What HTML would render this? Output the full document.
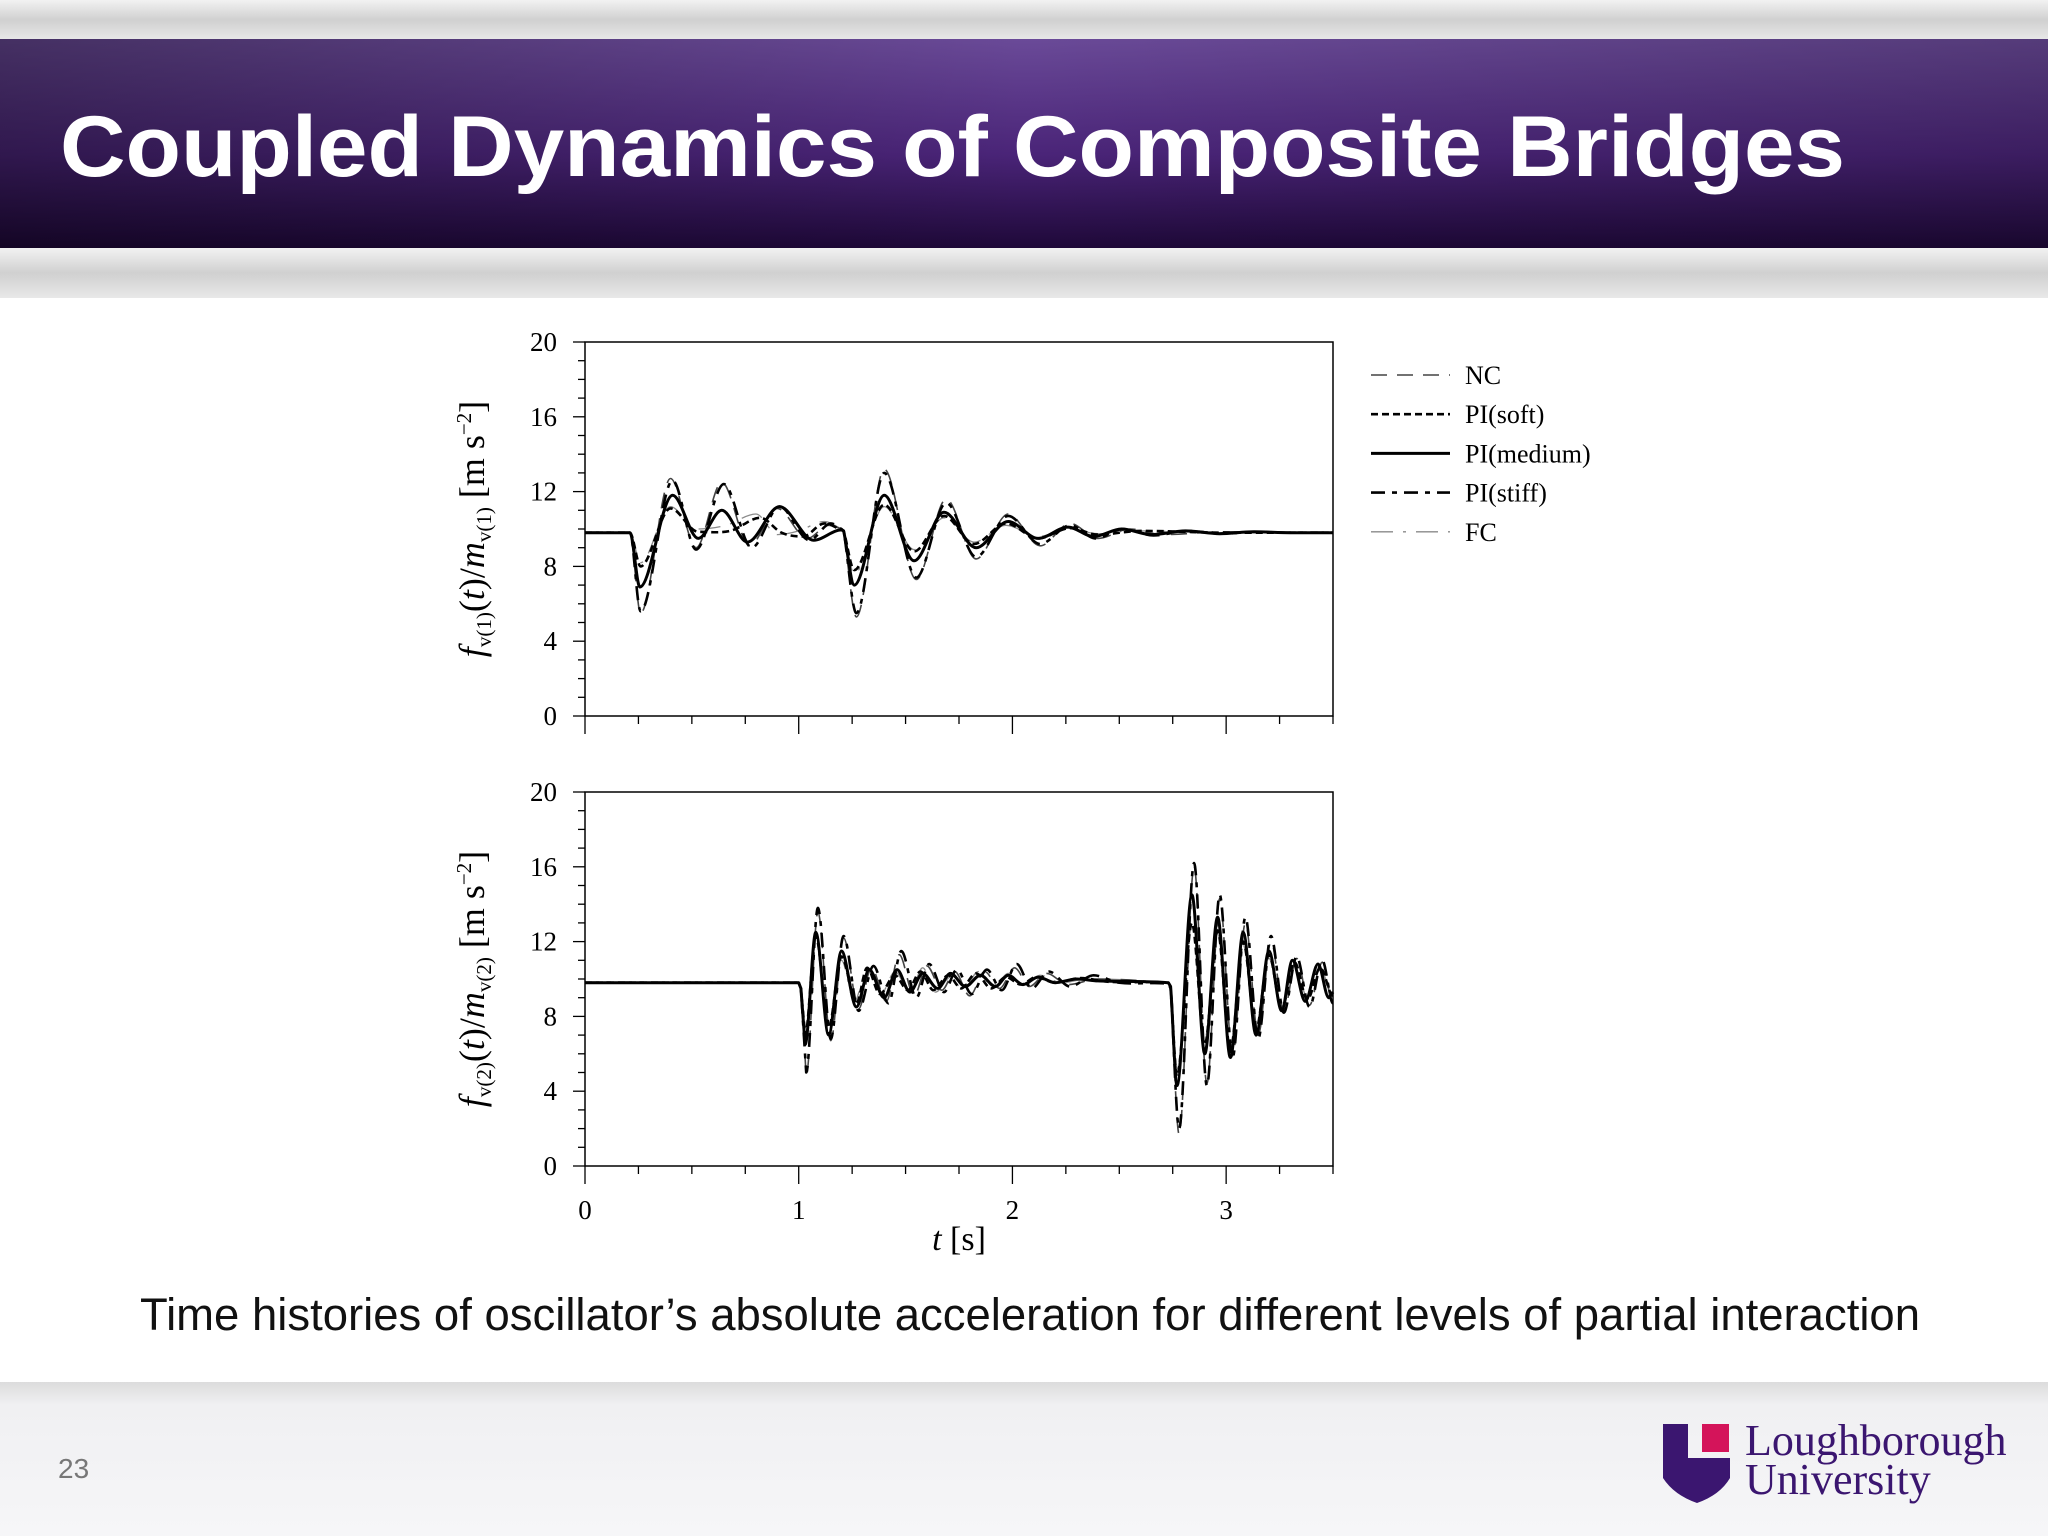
<!DOCTYPE html>
<html><head><meta charset="utf-8">
<style>
html,body{margin:0;padding:0;}
body{width:2048px;height:1536px;overflow:hidden;background:#fff;font-family:"Liberation Sans",sans-serif;}
svg{display:block;}
</style></head>
<body>
<svg id="slide" width="2048" height="1536" viewBox="0 0 2048 1536" xmlns="http://www.w3.org/2000/svg">
<defs>
<linearGradient id="hdr" x1="0" y1="0" x2="0" y2="1">
<stop offset="0" stop-color="#6a4a98"/><stop offset="0.55" stop-color="#4a2478"/><stop offset="1" stop-color="#1e0838"/>
</linearGradient>
<linearGradient id="hdrL" x1="0" y1="0" x2="1" y2="0">
<stop offset="0" stop-color="#000" stop-opacity="0.35"/><stop offset="0.5" stop-color="#000" stop-opacity="0"/><stop offset="1" stop-color="#000" stop-opacity="0.2"/>
</linearGradient>
<linearGradient id="grayband" x1="0" y1="0" x2="0" y2="1">
<stop offset="0" stop-color="#f2f2f2"/><stop offset="0.5" stop-color="#d0d0d0"/><stop offset="1" stop-color="#e8e8e8"/>
</linearGradient>
<linearGradient id="foot" x1="0" y1="0" x2="0" y2="1">
<stop offset="0" stop-color="#dcdcdc"/><stop offset="0.15" stop-color="#f0f0f2"/><stop offset="1" stop-color="#f6f6f8"/>
</linearGradient>
</defs>
<rect x="0" y="0" width="2048" height="40" fill="url(#grayband)"/>
<rect x="0" y="39" width="2048" height="210" fill="url(#hdr)"/>
<rect x="0" y="39" width="2048" height="210" fill="url(#hdrL)"/>
<rect x="0" y="248" width="2048" height="50" fill="url(#grayband)"/>
<text x="60" y="176" font-family="Liberation Sans, sans-serif" font-weight="bold" font-size="86" fill="#fff" textLength="1785" lengthAdjust="spacingAndGlyphs">Coupled Dynamics of Composite Bridges</text>

<text x="1030" y="1330" text-anchor="middle" font-family="Liberation Sans, sans-serif" font-size="45" fill="#111" textLength="1780" lengthAdjust="spacingAndGlyphs">Time histories of oscillator’s absolute acceleration for different levels of partial interaction</text>

<rect x="0" y="1382" width="2048" height="154" fill="url(#foot)"/>
<text x="58" y="1478" font-family="Liberation Sans, sans-serif" font-size="28" fill="#777">23</text>
<g>
<path d="M1663 1424 L1688 1424 L1688 1458 L1730 1458 L1730 1478 Q1720 1495 1697 1503 Q1674 1495 1663 1478 Z" fill="#3b1670"/>
<rect x="1702" y="1424" width="27" height="28" fill="#d4145a"/>
<text x="1745" y="1455" font-family="Liberation Serif, serif" font-size="44" fill="#3b1670">Loughborough</text>
<text x="1745" y="1494" font-family="Liberation Serif, serif" font-size="44" fill="#3b1670">University</text>
</g>

<g id="chart1"></g>
<g id="chart2"></g>
<g id="legend"></g>
</svg>
<script>
// ---------- data ----------
const legendLabels = ["NC","PI(soft)","PI(medium)","PI(stiff)","FC"];
const yTicks = [0,4,8,12,16,20];
const xTicks = [0,1,2,3];

// top chart (oscillator 1)
const top_t_medium = [0,0.21,0.257,0.41,0.53,0.64,0.76,0.91,1.07,1.2,1.21,1.26,1.40,1.54,1.68,1.83,1.98,2.12,2.26,2.38,2.51,2.65,2.81,2.97,3.13,3.3,3.5];
const top_v_medium = [9.8,9.8,6.9,11.8,9.5,11.0,9.3,11.2,9.4,9.95,9.9,7.0,11.8,8.3,10.9,9.0,10.4,9.5,10.1,9.6,10.0,9.7,9.9,9.75,9.85,9.8,9.8];
const top_t_stiff = [0,0.21,0.26,0.41,0.52,0.65,0.78,0.91,1.05,1.15,1.2,1.21,1.27,1.40,1.55,1.69,1.83,1.98,2.13,2.27,2.39,2.52,2.66,2.82,2.98,3.14,3.3,3.5];
const top_v_stiff = [9.8,9.8,5.6,12.6,8.9,12.4,9.0,11.2,9.4,10.3,10.0,9.9,5.5,13.0,7.4,11.4,8.5,10.7,9.2,10.2,9.5,10.0,9.65,9.9,9.75,9.85,9.8,9.8];
const top_t_nc = [0,0.21,0.26,0.40,0.52,0.64,0.77,0.90,1.04,1.14,1.2,1.21,1.27,1.40,1.55,1.69,1.83,1.98,2.13,2.27,2.4,2.55,2.7,3.0,3.5];
const top_v_nc = [9.8,9.8,5.5,12.7,9.0,12.5,9.1,11.1,9.5,10.2,10.0,9.9,5.3,13.2,7.3,11.6,8.4,10.8,9.1,10.3,9.5,10.0,9.7,9.85,9.8];
const top_t_soft = [0,0.21,0.26,0.40,0.53,0.68,0.82,0.92,1.02,1.12,1.2,1.21,1.26,1.40,1.54,1.68,1.82,1.97,2.12,2.27,2.4,2.6,3.0,3.5];
const top_v_soft = [9.8,9.8,8.0,11.1,9.85,9.9,10.6,9.8,9.6,10.3,9.95,9.9,7.8,11.3,8.8,10.7,9.2,10.3,9.5,10.05,9.7,9.9,9.8,9.8];
const top_t_fc = [0,0.21,0.26,0.40,0.52,0.66,0.80,0.90,1.00,1.12,1.2,1.21,1.26,1.40,1.54,1.68,1.82,1.97,2.12,2.27,2.4,2.6,3.0,3.5];
const top_v_fc = [9.8,9.8,8.2,11.2,10.0,10.2,10.8,9.7,9.9,10.4,10.0,9.9,7.6,11.2,8.9,10.6,9.3,10.2,9.6,10.0,9.75,9.9,9.8,9.8];

// bottom chart (oscillator 2)
const bot_t_medium = [0,1.0,1.01,1.03,1.08,1.14,1.20,1.27,1.33,1.40,1.46,1.52,1.58,1.65,1.71,1.78,1.85,1.92,1.98,2.05,2.12,2.2,2.3,2.4,2.73,2.74,2.77,2.84,2.90,2.96,3.02,3.08,3.14,3.20,3.26,3.31,3.37,3.43,3.48,3.5];
const bot_v_medium = [9.8,9.8,9.5,6.5,12.5,7.0,11.5,8.5,10.5,9.0,10.5,9.3,10.3,9.5,10.3,9.6,10.2,9.6,10.2,9.7,10.1,9.8,10.0,9.9,9.8,9.6,4.3,14.5,6.0,13.3,5.8,12.5,7.0,11.5,8.3,11.0,8.8,10.8,9.0,9.3];
const bot_t_stiff = [0,1.0,1.01,1.035,1.09,1.15,1.21,1.28,1.35,1.42,1.48,1.55,1.61,1.68,1.74,1.81,1.88,1.95,2.02,2.09,2.17,2.27,2.38,2.5,2.73,2.74,2.78,2.85,2.91,2.97,3.03,3.09,3.15,3.21,3.27,3.33,3.39,3.45,3.5];
const bot_v_stiff = [9.8,9.8,9.5,5.0,13.8,6.8,12.3,8.3,10.7,8.7,11.5,9.0,10.8,9.3,10.5,9.2,10.5,9.4,10.8,9.5,10.4,9.6,10.2,9.8,9.75,9.5,2.0,16.2,4.3,14.5,5.8,13.3,6.8,12.3,8.2,11.2,8.5,11.0,8.7];
const bot_t_nc = [0,1.0,1.01,1.035,1.09,1.15,1.21,1.28,1.34,1.41,1.47,1.54,1.60,1.67,1.73,1.80,1.87,1.94,2.01,2.08,2.16,2.26,2.4,2.73,2.74,2.78,2.85,2.91,2.97,3.03,3.09,3.15,3.21,3.27,3.33,3.39,3.45,3.5];
const bot_v_nc = [9.8,9.8,9.5,4.8,13.6,6.7,12.2,8.4,10.6,8.8,11.3,9.1,10.7,9.4,10.4,9.1,10.4,9.5,10.6,9.6,10.3,9.7,10.0,9.75,9.5,1.7,16.0,4.4,14.3,5.9,13.0,7.0,12.0,8.3,11.1,8.6,10.9,8.6];
const bot_t_soft = [0,1.0,1.01,1.03,1.08,1.14,1.20,1.27,1.32,1.38,1.45,1.51,1.57,1.63,1.70,1.76,1.83,1.90,1.97,2.04,2.11,2.2,2.32,2.45,2.73,2.74,2.77,2.84,2.90,2.96,3.02,3.08,3.14,3.20,3.26,3.32,3.38,3.44,3.5];
const bot_v_soft = [9.8,9.8,9.5,7.0,12.3,7.4,11.2,8.7,10.6,9.2,10.2,9.4,10.4,9.4,10.2,9.5,10.3,9.5,10.1,9.7,10.1,9.8,10.05,9.85,9.8,9.6,4.8,13.0,6.5,12.6,6.2,12.0,7.3,11.3,8.4,10.9,8.9,10.6,9.1];
const bot_t_fc = [0,1.0,1.01,1.03,1.08,1.14,1.20,1.26,1.32,1.39,1.45,1.52,1.58,1.64,1.71,1.77,1.84,1.91,1.98,2.05,2.13,2.23,2.35,2.73,2.74,2.77,2.84,2.90,2.96,3.02,3.08,3.14,3.20,3.26,3.32,3.38,3.44,3.5];
const bot_v_fc = [9.8,9.8,9.5,7.2,12.1,7.6,11.0,8.8,10.5,9.3,10.4,9.3,10.6,9.3,10.1,9.4,10.4,9.5,10.3,9.6,10.2,9.8,10.0,9.8,9.6,5.2,12.8,6.8,12.4,6.5,11.8,7.5,11.1,8.5,10.8,9.0,10.5,9.2];

// ---------- drawing ----------
const NS = "http://www.w3.org/2000/svg";
const styles = [
  {stroke:"#444", w:1.6, dash:"16 10"},      // NC
  {stroke:"#000", w:2.6, dash:"7 4"},        // soft
  {stroke:"#000", w:3.0, dash:""},           // medium
  {stroke:"#000", w:2.6, dash:"14 7 5 7"},   // stiff
  {stroke:"#8a8a8a", w:1.3, dash:"22 10 3 10"} // FC
];
function el(tag, attrs, parent){
  const e = document.createElementNS(NS, tag);
  for (const k in attrs) e.setAttribute(k, attrs[k]);
  parent.appendChild(e);
  return e;
}
function tangent(pts, i){
  if (i===0 || i===pts.length-1) return 0;
  const a = pts[i][1]-pts[i-1][1], b = pts[i+1][1]-pts[i][1];
  if (a*b <= 0) return 0;
  return (pts[i+1][1]-pts[i-1][1])/(pts[i+1][0]-pts[i-1][0]);
}
function smoothPath(pts){
  let d = "M"+pts[0][0].toFixed(1)+" "+pts[0][1].toFixed(1);
  for (let i=0;i<pts.length-1;i++){
    const p1 = pts[i], p2 = pts[i+1];
    const dx = p2[0]-p1[0];
    if (dx<6){ d += " L"+p2[0].toFixed(1)+" "+p2[1].toFixed(1); continue; }
    const m1 = tangent(pts,i), m2 = tangent(pts,i+1);
    const c1x = p1[0]+dx/3, c1y = p1[1]+m1*dx/3;
    const c2x = p2[0]-dx/3, c2y = p2[1]-m2*dx/3;
    d += " C"+c1x.toFixed(1)+" "+c1y.toFixed(1)+" "+c2x.toFixed(1)+" "+c2y.toFixed(1)+" "+p2[0].toFixed(1)+" "+p2[1].toFixed(1);
  }
  return d;
}
function drawChart(g, top, bottom, series, showX, idx){
  const L=585, R=1333;
  const xs = t => L + (t/3.5)*(R-L);
  const ys = v => bottom - (v/20)*(bottom-top);
  el("rect",{x:L,y:top,width:R-L,height:bottom-top,fill:"none",stroke:"#000","stroke-width":1.5},g);
  for (let v=0; v<=20; v++){
    const major = v%4===0;
    const tk = el("line",{x1:L-(major?12:7),x2:L,y1:ys(v),y2:ys(v),stroke:"#000","stroke-width":1.3},g);
    
    
  }
  yTicks.forEach(v=>{
    const t = el("text",{x:557,y:ys(v)+9,"text-anchor":"end","font-family":"Liberation Serif, serif","font-size":27,fill:"#000"},g);
    t.textContent = v;
    
    
  });
  for (let k=0; k<=14; k++){
    const t = k*0.25, major = k%4===0;
    const tk = el("line",{x1:xs(t),x2:xs(t),y1:bottom,y2:bottom+(major?18:8),stroke:"#000","stroke-width":1.3},g);
    
    
  }
  if (showX){
    xTicks.forEach(v=>{
      const t = el("text",{x:xs(v),y:bottom+53,"text-anchor":"middle","font-family":"Liberation Serif, serif","font-size":27,fill:"#000"},g);
      t.textContent = v;
      
      
    });
    const xt = el("text",{x:959,y:bottom+84,"text-anchor":"middle","font-family":"Liberation Serif, serif","font-size":34,fill:"#000"},g);
    xt.innerHTML = '<tspan font-style="italic">t</tspan> [s]';
    
    
  }
  const cy = (top+bottom)/2;
  const yt = el("text",{x:0,y:0,"text-anchor":"middle","font-family":"Liberation Serif, serif","font-size":36,fill:"#000",transform:"translate(484,"+cy+") rotate(-90)"},g);
  yt.innerHTML = '<tspan font-style="italic">f</tspan><tspan font-size="21" dy="7">v('+idx+')</tspan><tspan dy="-7">(</tspan><tspan font-style="italic">t</tspan>)/<tspan font-style="italic">m</tspan><tspan font-size="21" dy="7">v('+idx+')</tspan><tspan dy="-7"> [m s</tspan><tspan font-size="21" dy="-13">−2</tspan><tspan dy="13">]</tspan>';
  
  
  const names = ["series-nc","series-pi-soft","series-pi-medium","series-pi-stiff","series-fc"];
  const order = [4,0,1,3,2];
  order.forEach(i=>{
    const s = series[i], st = styles[i];
    const pts = s[0].map((t,j)=>[xs(t), ys(s[1][j])]);
    const p = el("path",{d:smoothPath(pts),fill:"none",stroke:st.stroke,"stroke-width":st.w,"stroke-dasharray":st.dash,"stroke-linejoin":"round"},g);
    
    
  });
}
drawChart(document.getElementById("chart1"), 342, 716, [
  [top_t_nc,top_v_nc],[top_t_soft,top_v_soft],[top_t_medium,top_v_medium],[top_t_stiff,top_v_stiff],[top_t_fc,top_v_fc]
], false, 1);
drawChart(document.getElementById("chart2"), 792, 1166, [
  [bot_t_nc,bot_v_nc],[bot_t_soft,bot_v_soft],[bot_t_medium,bot_v_medium],[bot_t_stiff,bot_v_stiff],[bot_t_fc,bot_v_fc]
], true, 2);

const lg = document.getElementById("legend");
legendLabels.forEach((lab,i)=>{
  const y = 375 + i*39.2, st = styles[i];
  const ln = el("line",{x1:1371,x2:1450,y1:y,y2:y,stroke:st.stroke,"stroke-width":st.w,"stroke-dasharray":st.dash},lg);
  
  
  const t = el("text",{x:1465,y:y+9,"font-family":"Liberation Serif, serif","font-size":26,fill:"#000"},lg);
  t.textContent = lab;
  
  
});
</script>
</body></html>
